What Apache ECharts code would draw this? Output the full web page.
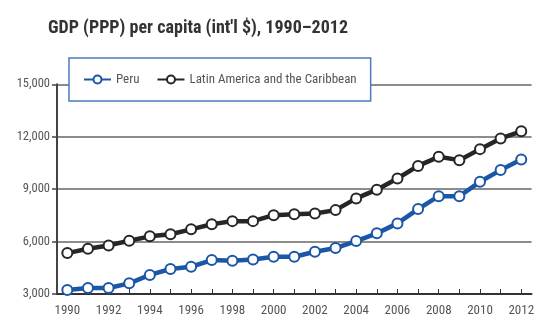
<!DOCTYPE html>
<html>
<head>
<meta charset="utf-8">
<script src="https://cdn.jsdelivr.net/npm/echarts@6/dist/echarts.min.js"></script>
<style>
  html, body { margin: 0; padding: 0; background: #fff; }
  #chart { width: 537px; height: 323px; }
</style>
</head>
<body>
<div id="chart"></div>
<script>
// GDP (PPP) per capita, international dollars
const years = ['1990','1991','1992','1993','1994','1995','1996','1997','1998','1999','2000',
  '2001','2002','2003','2004','2005','2006','2007','2008','2009','2010','2011','2012'];
const peru = [3230, 3340, 3340, 3610, 4090, 4430, 4560, 4940, 4900, 4970, 5130,
  5130, 5420, 5630, 6030, 6470, 7040, 7860, 8600, 8600, 9420, 10090, 10700];
const latinAmerica = [5340, 5590, 5780, 6050, 6300, 6420, 6700, 6990, 7170, 7170, 7510,
  7570, 7610, 7800, 8470, 8970, 9610, 10330, 10850, 10660, 11290, 11900, 12310];
const yTicks = [3000, 6000, 9000, 12000, 15000];

const FONT = '"Roboto Condensed", "Open Sans Condensed", sans-serif';
const BLUE = '#1b57a6';
const DARK = '#262626';

const chart = echarts.init(document.getElementById('chart'), null, { renderer: 'canvas' });

function lineSeries(name, data, color) {
  return {
    name: name,
    type: 'line',
    data: data,
    symbol: 'circle',
    symbolSize: 10,
    showAllSymbol: true,
    lineStyle: { color: color, width: 4.5 },
    itemStyle: { color: '#fff', borderColor: color, borderWidth: 2 },
    emphasis: { disabled: true },
    z: 3
  };
}

chart.setOption({
  animation: false,
  title: {
    text: "GDP (PPP) per capita (int'l $), 1990\u20132012",
    left: 43,
    top: 14,
    textStyle: { fontFamily: FONT, fontWeight: 'bold', fontSize: 18, color: '#333' }
  },
  legend: {
    left: 69,
    top: 58,
    padding: [15, 14, 15, 14],
    backgroundColor: '#fff',
    borderColor: '#4a7cc0',
    borderWidth: 1.5,
    itemWidth: 27,
    itemHeight: 10,
    itemGap: 17,
    lineStyle: { width: 2 },
    textStyle: { fontFamily: FONT, fontSize: 13, color: '#555' },
    data: ['Peru', 'Latin America and the Caribbean'],
    z: 10
  },
  grid: { left: 57, right: 1.5, top: 84.3, bottom: 29, containLabel: false },
  xAxis: {
    type: 'category',
    data: years,
    boundaryGap: true,
    axisLine: { lineStyle: { color: '#333', width: 2 } },
    axisTick: { show: true, alignWithLabel: true, inside: true, length: 5, interval: 0,
      lineStyle: { color: '#333', width: 1 } },
    axisLabel: { interval: 1, fontFamily: FONT, fontSize: 13, color: '#555', margin: 10 },
    splitLine: { show: false }
  },
  yAxis: {
    type: 'value',
    min: yTicks[0],
    max: yTicks[yTicks.length - 1],
    interval: 3000,
    axisLine: { show: true, lineStyle: { color: '#444', width: 2 } },
    axisTick: { show: true, length: 5, lineStyle: { color: '#444', width: 1.5 } },
    axisLabel: {
      fontFamily: FONT, fontSize: 12.5, color: '#555', margin: 7,
      formatter: v => v.toLocaleString('en-US')
    },
    splitLine: { show: true, lineStyle: { color: '#8c8c8c', width: 2 } }
  },
  series: [
    lineSeries('Latin America and the Caribbean', latinAmerica, DARK),
    lineSeries('Peru', peru, BLUE)
  ]
});
</script>
</body>
</html>
